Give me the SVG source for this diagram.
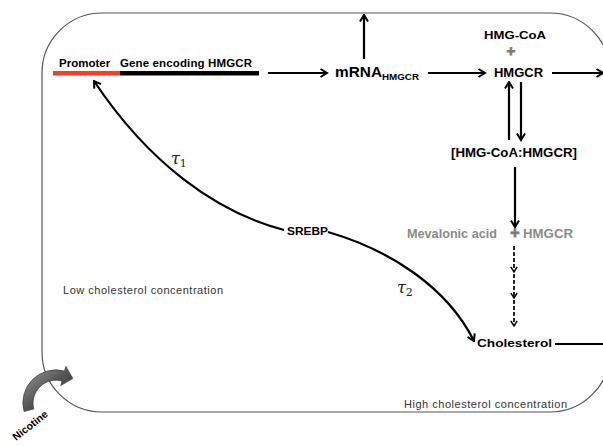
<svg xmlns="http://www.w3.org/2000/svg" width="603" height="446" viewBox="0 0 603 446">
<style>
.b{font-family:"Liberation Sans",Arial,sans-serif;font-weight:bold;fill:#000}
.g{fill:#8a8a8a}
.pl{font-family:"Liberation Sans",Arial,sans-serif;font-weight:bold;fill:#7a7a7a;stroke:#7a7a7a;stroke-width:0.8}
.r{font-family:"Liberation Sans",Arial,sans-serif;font-size:11px;fill:#333}
.tau{font-family:"DejaVu Serif","Liberation Serif",serif;font-style:italic;font-size:16px;fill:#222}
.sub{font-family:"DejaVu Serif","Liberation Serif",serif;font-style:normal;font-size:11px;fill:#222}
.ln{fill:none;stroke:#000;stroke-width:2.2}
.dash{fill:none;stroke:#000;stroke-width:1.7;stroke-dasharray:4 2}
</style>
<defs>
<marker id="ah" viewBox="0 0 10 10" refX="8.5" refY="5" markerWidth="10" markerHeight="10" orient="auto" markerUnits="userSpaceOnUse">
<path d="M2,1 L8.5,5 L2,9" fill="none" stroke="#000" stroke-width="2"/>
</marker>
<marker id="ahs" viewBox="0 0 10 10" refX="8.5" refY="5" markerWidth="8" markerHeight="8" orient="auto" markerUnits="userSpaceOnUse">
<path d="M2,1 L8.5,5 L2,9" fill="none" stroke="#000" stroke-width="1.8"/>
</marker>
<linearGradient id="nic" x1="0" y1="0" x2="1" y2="1">
<stop offset="0" stop-color="#a0a0a0"/>
<stop offset="0.5" stop-color="#555"/>
<stop offset="1" stop-color="#222"/>
</linearGradient>
</defs>
<rect x="0" y="0" width="603" height="446" fill="#fff"/>
<rect id="boundary" x="42" y="13" width="568" height="399" rx="60" ry="60" fill="none" stroke="#555" stroke-width="1.2"/>

<g id="connectors">
<line class="ln" x1="268" y1="73" x2="327" y2="73" marker-end="url(#ah)"/>
<line class="ln" x1="364" y1="59" x2="364" y2="15" marker-end="url(#ah)"/>
<line class="ln" x1="428" y1="73" x2="485" y2="73" marker-end="url(#ah)"/>
<line class="ln" x1="552" y1="73" x2="603" y2="73" marker-end="url(#ah)"/>
<line class="ln" x1="509" y1="140" x2="509" y2="82" marker-end="url(#ah)"/>
<line class="ln" x1="521" y1="82" x2="521" y2="140" marker-end="url(#ah)"/>
<line class="ln" x1="515" y1="167" x2="515" y2="227" marker-end="url(#ah)"/>
<line class="dash" x1="514" y1="246" x2="514" y2="272" marker-end="url(#ahs)"/>
<line class="dash" x1="514" y1="274" x2="514" y2="298" marker-end="url(#ahs)"/>
<line class="dash" x1="514" y1="300" x2="514" y2="326" marker-end="url(#ahs)"/>
<line class="ln" x1="555" y1="344" x2="603" y2="344"/>
<path class="ln" d="M284,230 C215,212 148,162 94,81" marker-end="url(#ah)"/>
<path class="ln" d="M328,232 C390,250 447,287 474,341" marker-end="url(#ah)"/>
</g>

<g id="gene">
<rect x="53" y="71" width="67" height="4.5" fill="#ff3b1f"/>
<rect x="120" y="71" width="139" height="4.5" fill="#000"/>
<text class="b" x="59" y="66.5" font-size="11.5">Promoter</text>
<text class="b" x="120" y="66.5" font-size="11.5" textLength="132">Gene encoding HMGCR</text>
</g>

<g id="mrna">
<text class="b" x="335" y="77" font-size="14" textLength="47" lengthAdjust="spacingAndGlyphs">mRNA</text>
<text class="b" x="382" y="80" font-size="9.5" textLength="37" lengthAdjust="spacingAndGlyphs">HMGCR</text>
</g>

<g id="hmgcoa">
<text class="b" x="484" y="39" font-size="11" textLength="62" lengthAdjust="spacingAndGlyphs">HMG-CoA</text>
<text class="pl" x="511" y="55.5" font-size="15" text-anchor="middle">+</text>
</g>

<g id="hmgcr">
<text class="b" x="494" y="77" font-size="12.5" textLength="49" lengthAdjust="spacingAndGlyphs">HMGCR</text>
</g>

<g id="complex">
<text class="b" x="451" y="157" font-size="12" textLength="126" lengthAdjust="spacingAndGlyphs">[HMG-CoA:HMGCR]</text>
</g>

<g id="mevalonic">
<text class="b g" x="407" y="238" font-size="12.5" textLength="90" lengthAdjust="spacingAndGlyphs">Mevalonic acid</text>
<text class="pl" x="515" y="237.5" font-size="16" text-anchor="middle">+</text>
<text class="b g" x="523" y="238" font-size="12.5" textLength="50" lengthAdjust="spacingAndGlyphs">HMGCR</text>
</g>

<g id="cholesterol">
<text class="b" x="477" y="347" font-size="11.5" textLength="75" lengthAdjust="spacingAndGlyphs">Cholesterol</text>
</g>

<g id="srebp">
<text class="b" x="287" y="235" font-size="11.5" textLength="41" lengthAdjust="spacingAndGlyphs">SREBP</text>
</g>

<g id="tau-labels">
<text class="tau" x="171" y="164">τ<tspan class="sub" dy="3">1</tspan></text>
<text class="tau" x="397" y="293">τ<tspan class="sub" dy="3">2</tspan></text>
</g>

<g id="region-labels">
<text class="r" x="63" y="294" textLength="160">Low cholesterol concentration</text>
<text class="r" x="404" y="408" textLength="163">High cholesterol concentration</text>
</g>

<g id="nicotine">
<path d="M24,411.5 A33,33 0 0 1 64.5,371 L65.8,366.3 L72.9,378.6 L60.7,385.6 L62,381 A23,23 0 0 0 33.8,409 Z" fill="url(#nic)" stroke="#333" stroke-width="0.6"/>
<text class="b" font-size="10.5" transform="translate(16,441) rotate(-38)">Nicotine</text>
</g>
</svg>
